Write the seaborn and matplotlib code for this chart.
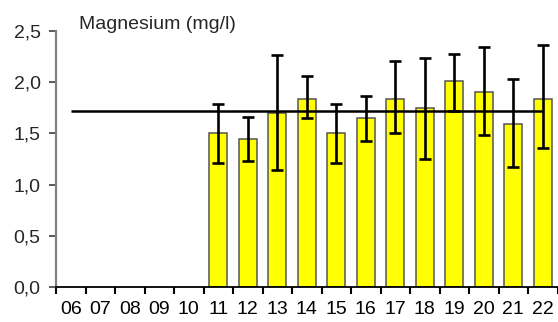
import matplotlib
matplotlib.use("Agg")
import matplotlib.pyplot as plt
import seaborn as sns
import pandas as pd

categories = ["06", "07", "08", "09", "10", "11", "12", "13", "14", "15", "16", "17", "18", "19", "20", "21", "22"]
years = ["11", "12", "13", "14", "15", "16", "17", "18", "19", "20", "21", "22"]
values = [1.50, 1.45, 1.70, 1.84, 1.50, 1.65, 1.84, 1.75, 2.01, 1.90, 1.59, 1.84]
err_high = [1.79, 1.66, 2.27, 2.06, 1.79, 1.87, 2.21, 2.24, 2.28, 2.34, 2.03, 2.36]
err_low = [1.21, 1.23, 1.14, 1.65, 1.21, 1.43, 1.50, 1.25, 1.72, 1.48, 1.17, 1.36]
mean_value = 1.72
yticks = [0.0, 0.5, 1.0, 1.5, 2.0, 2.5]
ytick_labels = ["0,0", "0,5", "1,0", "1,5", "2,0", "2,5"]
title = "Magnesium (mg/l)"

sns.set_style("white")
plt.rcParams["font.family"] = ["Liberation Sans", "DejaVu Sans"]

fig = plt.figure(figsize=(5.58, 3.22), dpi=100)
ax = fig.add_axes([56 / 558, 1 - 287 / 322, 501.5 / 558, 256 / 322])

df = pd.DataFrame({"year": years, "value": values})
sns.barplot(data=df, x="year", y="value", order=categories, color="#FFFF00",
            saturation=1, width=0.62, edgecolor="#555555", linewidth=1.1,
            errorbar=None, ax=ax)

pos = [categories.index(y) for y in years]
lower = [v - l for v, l in zip(values, err_low)]
upper = [h - v for v, h in zip(values, err_high)]
ax.errorbar(pos, values, yerr=[lower, upper], fmt="none", ecolor="black",
            elinewidth=1.9, capsize=4, capthick=1.9, zorder=5)

ax.hlines(mean_value, 0, len(categories) - 1, colors="black", linewidth=1.8, zorder=6)

ax.set_xlim(-0.5, len(categories) - 0.5)
ax.set_ylim(0, 2.5)
ax.set_yticks(yticks)
ax.set_yticklabels(ytick_labels)
ax.set_xticks(range(len(categories)))
ax.set_xticklabels(categories)
ax.set_xticks([i - 0.5 for i in range(len(categories) + 1)], minor=True)
ax.tick_params(axis="x", which="major", length=0, pad=10, labelsize=14, colors="black")
ax.tick_params(axis="x", which="minor", length=5, width=1.5, color="black", direction="out", bottom=True)
ax.tick_params(axis="y", which="major", length=5, width=1.2, color="#404040", direction="out",
               left=True, pad=6, labelsize=14)
ax.set_xlabel("")
ax.set_ylabel("")

for s in ["top", "right"]:
    ax.spines[s].set_visible(False)
ax.spines["left"].set_color("#808080")
ax.spines["left"].set_linewidth(1.6)
ax.spines["bottom"].set_color("black")
ax.spines["bottom"].set_linewidth(1.3)

fig.text(79 / 558, 1 - 29 / 322, title, fontsize=14, ha="left", va="baseline")

fig.savefig("out.png", dpi=100)
